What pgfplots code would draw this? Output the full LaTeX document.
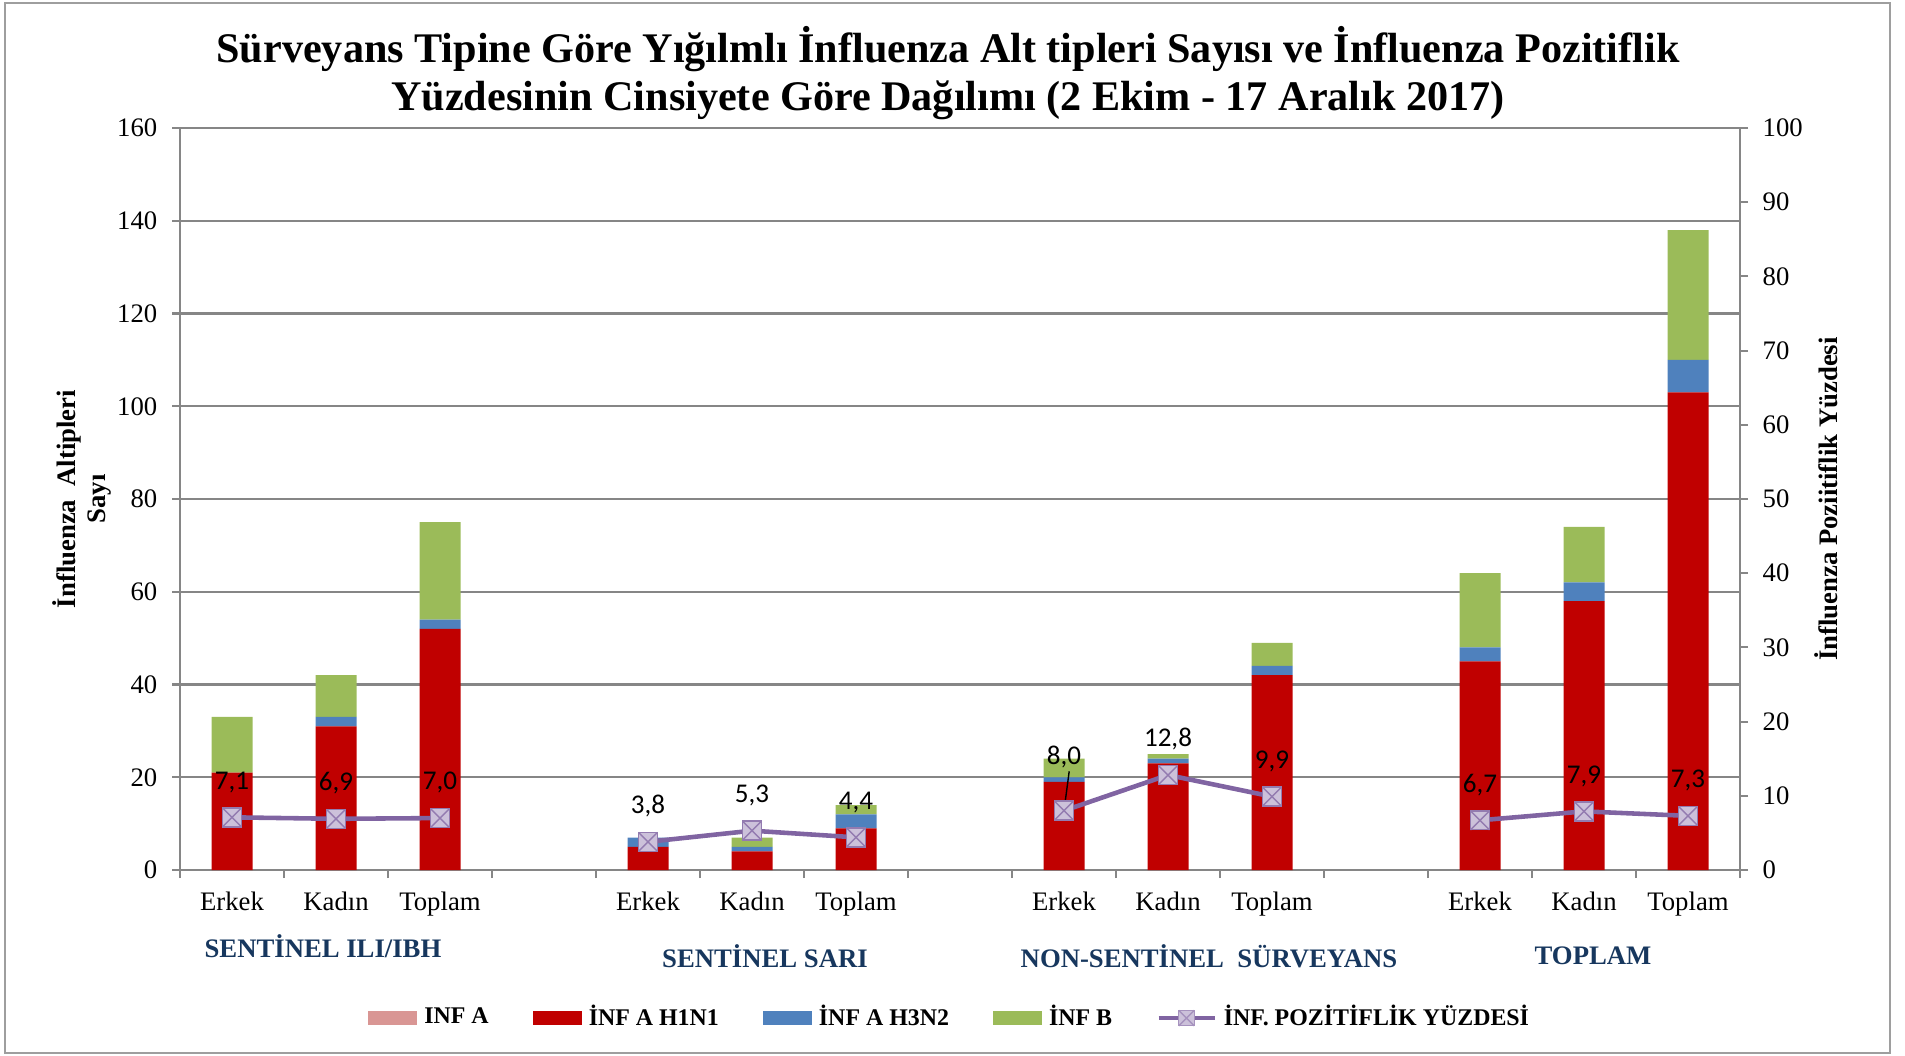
\documentclass[border=0pt]{standalone}
\usepackage{fontspec}
\setmainfont{Liberation Serif}
\newfontfamily\calibri{Carlito}
\usepackage{pgfplots}
\usepackage{pgfplotstable}
\pgfplotsset{compat=1.18}

\definecolor{infa}{HTML}{D99694}
\definecolor{h1n1}{HTML}{C00000}
\definecolor{h3n2}{HTML}{4F81BD}
\definecolor{infb}{HTML}{9BBB59}
\definecolor{linec}{HTML}{8064A2}
\definecolor{markf}{HTML}{CCC1DA}
\definecolor{axgray}{HTML}{868686}
\definecolor{navy}{HTML}{17375E}

\pgfdeclareplotmark{sqx}{%
  \pgfpathrectangle{\pgfqpoint{-\pgfplotmarksize}{-\pgfplotmarksize}}{\pgfqpoint{2\pgfplotmarksize}{2\pgfplotmarksize}}%
  \pgfusepathqfillstroke
  \pgfpathmoveto{\pgfqpoint{-\pgfplotmarksize}{-\pgfplotmarksize}}\pgfpathlineto{\pgfqpoint{\pgfplotmarksize}{\pgfplotmarksize}}%
  \pgfpathmoveto{\pgfqpoint{-\pgfplotmarksize}{\pgfplotmarksize}}\pgfpathlineto{\pgfqpoint{\pgfplotmarksize}{-\pgfplotmarksize}}%
  \pgfusepathqstroke}

\pgfplotsset{
  barlegend/.style={legend image code/.code={\fill[##1] (0cm,-0.07cm) rectangle (0.49cm,0.07cm);}},
  linelegend/.style={legend image code/.code={\draw[##1] (0cm,0cm) -- (0.56cm,0cm);
      \draw[##1] plot[only marks] coordinates {(0.28cm,0cm)};}},
}

\pgfplotstableread{
x infa h1n1 h3n2 infb
0 0 21 0 12
1 0 31 2 9
2 0 52 2 21
4 0 5 2 0
5 0 4 1 2
6 0 9 3 2
8 0 19 1 4
9 0 23 1 1
10 0 42 2 5
12 0 45 3 16
13 0 58 4 12
14 0 103 7 28
}\bardata

\pgfplotstableread{
x pct dy
0 7.1 0.24
1 6.9 0.24
2 7.0 0.24
3 nan 0.24
4 3.8 0.24
5 5.3 0.24
6 4.4 0.24
7 nan 0.24
8 8.0 0.42
9 12.8 0.24
10 9.9 0.24
11 nan 0.24
12 6.7 0.24
13 7.9 0.24
14 7.3 0.24
}\pctdata

\begin{document}
\begin{tikzpicture}
\useasboundingbox (-1.80cm,-1.85cm) rectangle (17.25cm,8.70cm);
\draw[axgray!80, line width=0.6pt] (-1.75cm,-1.83cm) rectangle (17.10cm,8.67cm);

\begin{axis}[
  at={(0,0)}, anchor=south west,
  scale only axis, width=15.6cm, height=7.42cm,
  xmin=-0.5, xmax=14.5, ymin=0, ymax=160,
  axis x line*=bottom, axis y line*=left,
  axis line style={axgray, line width=0.6pt},
  xtick={-0.5,0.5,...,14.5}, xticklabels={},
  extra x ticks={0,1,2,4,5,6,8,9,10,12,13,14},
  extra x tick labels={Erkek,Kadın,Toplam,Erkek,Kadın,Toplam,Erkek,Kadın,Toplam,Erkek,Kadın,Toplam},
  extra x tick style={major tick length=0pt, grid=none, xticklabel style={anchor=base, yshift=-0.40cm}},
  ytick={0,20,...,160},
  ymajorgrids, grid style={axgray, line width=0.6pt},
  tick align=outside, major tick length=0.08cm,
  tick style={axgray, line width=0.6pt},
  tick label style={font=\fontsize{7.6}{9}\selectfont, text=black},
  /pgf/number format/assume math mode=true,
  yticklabel style={inner sep=0pt, xshift=-0.14cm},
  ybar stacked, bar width=0.41cm,
  legend columns=5,
  legend cell align=left,
  legend style={at={(0.495,-0.1995)}, anchor=center, draw=none, fill=none,
    font=\fontsize{6.8}{8}\selectfont\bfseries,
    /tikz/every even column/.append style={column sep=0.37cm}},
]
\addplot[fill=infa, draw=none, barlegend] table[x=x,y=infa]{\bardata};
\addlegendentry{INF A}
\addplot[fill=h1n1, draw=none, barlegend] table[x=x,y=h1n1]{\bardata};
\addlegendentry{İNF A H1N1}
\addplot[fill=h3n2, draw=none, barlegend] table[x=x,y=h3n2]{\bardata};
\addlegendentry{İNF A H3N2}
\addplot[fill=infb, draw=none, barlegend] table[x=x,y=infb]{\bardata};
\addlegendentry{İNF B}
\addlegendimage{linec, line width=1.3pt, mark=sqx, mark size=2.2pt,
  mark options={fill=markf, draw=linec!70, line width=0.4pt}, linelegend}
\addlegendentry{İNF. POZİTİFLİK YÜZDESİ}
\end{axis}

\begin{axis}[
  at={(0,0)}, anchor=south west,
  scale only axis, width=15.6cm, height=7.42cm,
  xmin=-0.5, xmax=14.5, ymin=0, ymax=100,
  axis x line=none, axis y line*=right,
  axis line style={axgray, line width=0.6pt},
  ytick={0,10,...,100},
  tick align=outside, major tick length=0.08cm,
  tick style={axgray, line width=0.6pt},
  tick label style={font=\fontsize{7.6}{9}\selectfont, text=black},
  /pgf/number format/assume math mode=true,
  yticklabel style={inner sep=0pt, xshift=0.14cm},
  clip=false,
  unbounded coords=jump,
]
\draw[black, line width=0.4pt] (axis cs:8,8.0) -- (axis cs:8.05,13.3);
\addplot[linec, line width=1.3pt, mark=sqx, mark size=2.7pt,
  mark options={fill=markf, draw=linec!85, line width=0.4pt},
  point meta=y,
  visualization depends on={\thisrow{dy} \as \dy},
  nodes near coords={\pgfmathprintnumber[fixed,fixed zerofill,precision=1,use comma]{\pgfplotspointmeta}},
  every node near coord/.append style={font=\calibri\fontsize{7.7}{9}\selectfont, anchor=south, inner sep=0pt, yshift=\dy cm, text=black}
] table[x=x,y=pct]{\pctdata};
\end{axis}

\node[align=center, font=\fontsize{12}{13.7}\selectfont\bfseries] at (7.68cm,7.97cm)
  {Sürveyans Tipine Göre Yığılmlı İnfluenza Alt tipleri Sayısı ve İnfluenza Pozitiflik\\Yüzdesinin Cinsiyete Göre Dağılımı (2 Ekim - 17 Aralık 2017)};
\node[rotate=90, align=center, font=\fontsize{7.6}{8.5}\selectfont\bfseries] at (-0.98cm,3.71cm)
  {İnfluenza\ \ Altipleri\\Sayı};
\node[rotate=90, font=\fontsize{7.6}{9}\selectfont\bfseries] at (16.46cm,3.71cm)
  {İnfluenza Poziitiflik Yüzdesi};
\node[font=\fontsize{7.6}{9}\selectfont\bfseries, text=navy] at (1.43cm,-0.765cm) {SENTİNEL ILI/IBH};
\node[font=\fontsize{7.6}{9}\selectfont\bfseries, text=navy] at (5.85cm,-0.86cm) {SENTİNEL SARI};
\node[font=\fontsize{7.6}{9}\selectfont\bfseries, text=navy] at (10.29cm,-0.86cm) {NON-SENTİNEL\ \ SÜRVEYANS};
\node[font=\fontsize{7.6}{9}\selectfont\bfseries, text=navy] at (14.13cm,-0.86cm) {TOPLAM};
\end{tikzpicture}
\end{document}
